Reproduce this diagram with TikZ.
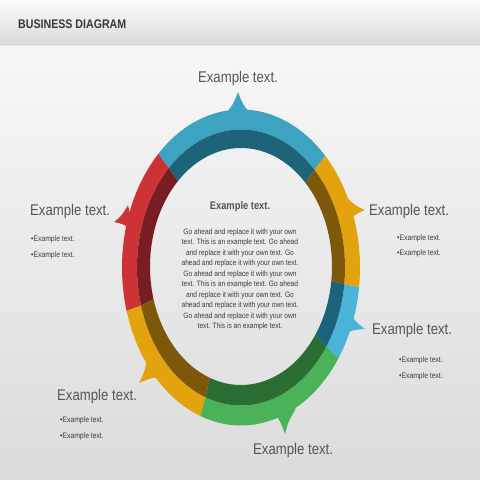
\documentclass[tikz,border=0pt]{standalone}
\usepackage{fontspec}
\setmainfont[FakeStretch=0.85]{Liberation Sans}
\usetikzlibrary{calc,shadings}
\definecolor{tealL}{RGB}{62,163,192}
\definecolor{tealD}{RGB}{30,100,120}
\definecolor{redL}{RGB}{205,50,55}
\definecolor{redD}{RGB}{120,30,35}
\definecolor{goldL}{RGB}{226,163,14}
\definecolor{goldD}{RGB}{125,88,10}
\definecolor{blueL}{RGB}{74,180,216}
\definecolor{blueD}{RGB}{28,98,125}
\definecolor{greenL}{RGB}{75,178,90}
\definecolor{greenD}{RGB}{42,110,52}
\definecolor{textgrey}{RGB}{85,85,85}
\definecolor{bulgrey}{RGB}{60,60,60}
\definecolor{hdrgrey}{RGB}{55,55,55}
\newcommand\ringseg[4]{%
  \fill[#3] ({241+119*cos(#1)},{212.5+158*sin(#1)})
    arc[start angle=#1,end angle=#2,x radius=119pt,y radius=158pt]
    -- ({241+104*cos(#2)},{212.5+138*sin(#2)})
    arc[start angle=#2,end angle=#1,x radius=104pt,y radius=138pt] -- cycle;
  \fill[#4] ({241+104*cos(#1)},{212.5+138*sin(#1)})
    arc[start angle=#1,end angle=#2,x radius=104pt,y radius=138pt]
    -- ({241+91*cos(#2)},{213.5+118.5*sin(#2)})
    arc[start angle=#2,end angle=#1,x radius=91pt,y radius=118.5pt] -- cycle;}
\newcommand\spikeshape[4]{%
  \path (#3) coordinate (sC) (#2) coordinate (sT);
  \path ($(sC)!#4!90:(sT)$) coordinate (sA) ($(sC)!#4!-90:(sT)$) coordinate (sB);
  \path ($(sC)!0.5!(sT)$) coordinate (sM);
  \path ($(sA)!0.5!(sT)$) coordinate (sA1) ($(sB)!0.5!(sT)$) coordinate (sB1);
  \path ($(sA1)!0.35!(sM)$) coordinate (sA2) ($(sB1)!0.35!(sM)$) coordinate (sB2);
  \fill[#1] (sA) .. controls (sA2) .. (sT) .. controls (sB2) .. (sB) -- cycle;}
\begin{document}
\begin{tikzpicture}[x=1pt,y=1pt,
  big/.style={font=\fontsize{15.5}{18}\selectfont, text=textgrey, inner sep=0pt, anchor=west},
  bul/.style={font=\fontsize{8}{9.6}\selectfont, text=bulgrey, inner sep=0pt, anchor=west}]
\useasboundingbox (0,0) rectangle (480,480);
% background
\shade[top color=black!3, bottom color=black!14] (0,0) rectangle (480,435);
\shade[top color=black!1, bottom color=black!15] (0,435) rectangle (480,480);
\draw[black!10, line width=0.6pt] (0,435) -- (480,435);
\node[anchor=west, inner sep=0pt, font=\bfseries\fontsize{12.5}{14}\selectfont, text=hdrgrey] (title) at (18,456) {BUSINESS DIAGRAM};
% spikes
\spikeshape{tealL}{238,388}{238,364}{14pt}
\spikeshape{goldL}{365,270}{347,270}{12pt}
\spikeshape{blueL}{365,151}{345,157}{12pt}
\spikeshape{redL}{114,258}{131,262}{13pt}
\spikeshape{goldL}{139,97}{156,113}{13pt}
\spikeshape{greenL}{285,46}{284,71}{12pt}
% ring
\ringseg{45}{134}{tealL}{tealD}
\ringseg{134}{196}{redL}{redD}
\ringseg{196}{250}{goldL}{goldD}
\ringseg{250}{325}{greenL}{greenD}
\ringseg{325}{353}{blueL}{blueD}
\ringseg{353}{405}{goldL}{goldD}
% centre text
\node[font=\bfseries\fontsize{11}{13}\selectfont, text=textgrey, inner sep=0pt] (ctitle) at (240,273) {Example text.};
\node[font=\fontsize{7.8}{10.5}\selectfont, text=bulgrey, align=center, inner sep=0pt] (cbody) at (240,200.5)
 {Go ahead and replace it with your own\\
  text. This is an example text. Go ahead\\
  and replace it with your own text. Go\\
  ahead and replace it with your own text.\\
  Go ahead and replace it with your own\\
  text. This is an example text. Go ahead\\
  and replace it with your own text. Go\\
  ahead and replace it with your own text.\\
  Go ahead and replace it with your own\\
  text. This is an example text.};
% outer labels
\node[big, anchor=center] (ttop) at (238,402) {Example text.};
\node[big] (tleft) at (30,269) {Example text.};
\node[bul] (bl1) at (31,241) {•Example text.};
\node[bul] (bl2) at (31,225) {•Example text.};
\node[big] (trt) at (369,269) {Example text.};
\node[bul] (br1) at (397,242) {•Example text.};
\node[bul] (br2) at (397,227) {•Example text.};
\node[big] (trb) at (372,150) {Example text.};
\node[bul] (bb1) at (399,120) {•Example text.};
\node[bul] (bb2) at (399,104) {•Example text.};
\node[big] (tbl) at (57,84) {Example text.};
\node[bul] (bbl1) at (60,60) {•Example text.};
\node[bul] (bbl2) at (60,44) {•Example text.};
\node[big] (tbot) at (253,30) {Example text.};
\end{tikzpicture}
\end{document}
